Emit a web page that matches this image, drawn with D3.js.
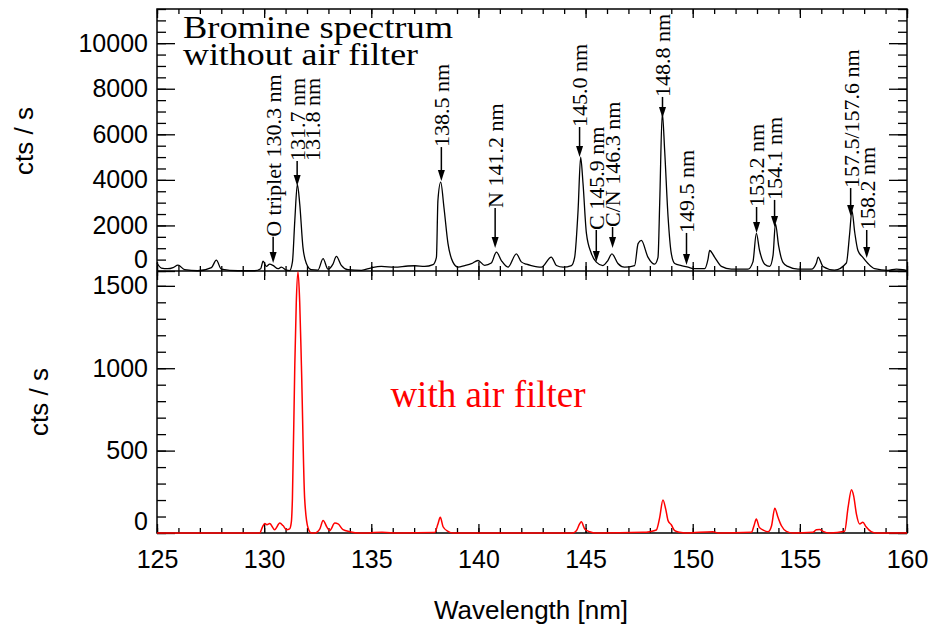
<!DOCTYPE html>
<html>
<head>
<meta charset="utf-8">
<script src="https://cdn.jsdelivr.net/npm/d3@7"></script>
<style>
  body { margin: 0; background: #fff; }
  text { font-family: "Liberation Sans", Arial, sans-serif; fill: #000; }
  .serif { font-family: "Liberation Serif", "Times New Roman", serif; }
  .tick text { font-size: 25px; }
  .axis path.domain { display: none; }
  .axis line { stroke: #000; stroke-width: 1.3px; }
</style>
</head>
<body>
<div id="chart"></div>
<script>
// spectrum without air filter (black), wavelength in nm / counts per s
let blackNm = [125.0, 125.2, 125.5, 125.75, 125.98, 126.29, 126.9, 127.54, 127.77, 128.0,
  128.78, 129.56, 129.84, 129.95, 130.1, 130.26, 130.41, 130.65, 130.8, 131.04,
  131.19, 131.32, 131.43, 131.55, 131.66, 131.81, 131.97, 132.2, 132.51, 132.75,
  132.98, 133.21, 133.37, 133.6, 133.91, 134.54, 135.0, 135.47, 136.09, 136.71,
  137.03, 137.49, 137.88, 138.04, 138.11, 138.24, 138.39, 138.58, 138.81, 139.05,
  139.36, 139.67, 139.98, 140.29, 140.6, 140.84, 141.07, 141.38, 141.77, 142.0,
  142.24, 142.47, 142.94, 143.4, 143.64, 143.95, 144.34, 144.49, 144.65, 144.77,
  144.88, 145.04, 145.27, 145.5, 145.81, 146.04, 146.23, 146.51, 146.82, 147.29,
  147.45, 147.6, 147.91, 148.22, 148.38, 148.46, 148.58, 148.69, 148.85, 149.0,
  149.16, 149.47, 149.78, 150.09, 150.56, 150.71, 150.79, 151.02, 151.34, 151.8,
  152.58, 152.81, 152.97, 153.12, 153.36, 153.59, 153.75, 153.86, 154.01, 154.21,
  154.44, 154.91, 155.54, 155.77, 155.85, 156.08, 156.62, 157.17, 157.32, 157.43,
  157.56, 157.71, 157.94, 158.18, 158.49, 159.11, 159.5, 159.8, 160.0];
let blackCts = [350, 130, 100, 150, 260, 60, 10, 150, 480, 80,
  10, 10, 100, 430, 200, 300, 250, 100, 170, 40,
  20, 400, 2200, 3800, 2950, 1050, 330, 60, 40, 540,
  80, 300, 640, 250, 60, 30, 140, 200, 170, 220,
  230, 200, 280, 600, 3100, 3900, 2800, 1200, 390, 170,
  240, 320, 460, 250, 350, 830, 460, 170, 750, 400,
  300, 240, 170, 610, 240, 170, 240, 600, 2660, 5000,
  3850, 1650, 770, 390, 240, 460, 750, 330, 170, 240,
  1200, 1340, 610, 300, 600, 3000, 6950, 5300, 2370, 770,
  330, 240, 170, 100, 100, 500, 900, 610, 200, 80,
  80, 400, 1650, 900, 300, 200, 700, 2080, 1100, 380,
  200, 80, 80, 350, 610, 200, 40, 350, 1600, 2650,
  1700, 900, 600, 330, 100, 30, 80, 60, 20];

// spectrum with air filter (red)
let redNm = [125.0, 129.79, 129.92, 130.03, 130.13, 130.26, 130.49, 130.73, 130.88, 131.04,
  131.19, 131.27, 131.32, 131.43, 131.5, 131.58, 131.66, 131.74, 131.89, 132.05,
  132.2, 132.36, 132.6, 132.75, 132.93, 133.06, 133.3, 133.45, 133.68, 133.99,
  134.46, 135.5, 136.3, 137.96, 138.11, 138.22, 138.35, 138.58, 138.81, 144.4,
  144.57, 144.72, 144.8, 144.96, 145.19, 145.5, 147.68, 147.99, 148.3, 148.46,
  148.61, 148.74, 148.85, 149.0, 149.16, 149.39, 149.7, 150.94, 151.2, 152.74,
  152.86, 152.97, 153.1, 153.29, 153.52, 153.68, 153.83, 153.98, 154.14, 154.37,
  154.68, 155.61, 155.77, 155.92, 156.08, 156.39, 157.09, 157.25, 157.41, 157.51,
  157.64, 157.79, 157.94, 158.09, 158.33, 158.57, 160.0];
let redCts = [0, 0, 36, 57, 50, 57, 20, 60, 45, 20,
  25, 67, 210, 1015, 1400, 1585, 1400, 1015, 210, 30,
  0, 0, 25, 76, 36, 15, 60, 55, 20, 8,
  0, 4, 0, 3, 55, 95, 38, 10, 0, 0,
  13, 55, 68, 25, 8, 0, 4, 8, 18, 95,
  200, 145, 75, 50, 14, 4, 0, 8, 0, 4,
  44, 85, 36, 18, 8, 44, 150, 95, 44, 10,
  0, 4, 20, 22, 10, 0, 10, 155, 262, 225,
  115, 55, 65, 38, 8, 0, 0];

// line labels: wavelength of arrow, counts where the text begins, counts of arrow tip
// (a label with no tip is a second line of the label before it)
let labelText = ["O triplet 130.3 nm", "131.7 nm", "131.8 nm", "138.5 nm", "N 141.2 nm",
  "145.0 nm", "C 145.9 nm", "C/N 146.3 nm", "148.8 nm", "149.5 nm",
  "153.2 nm", "154.1 nm", "157.5/157.6 nm", "158.2 nm"];
let labelNm = [130.42, 131.54, 132.22, 138.27, 140.78, 144.72, 145.5, 146.26, 148.59, 149.71,
  152.98, 153.82, 157.37, 158.12];
let labelStart = [1500, 4830, 4830, 5440, 2770, 6320, 1800, 1930, 7640, 1670,
  2810, 3120, 3640, 1800];
let labelTip = [350, 3730, null, 3950, 1010, 5000, 400, 1010, 6720, 260,
  1670, 1930, 2410, 570];

let titleLines = ["Bromine spectrum", "without air filter"];

let xMajor = [125, 130, 135, 140, 145, 150, 155, 160];
let topMajor = [0, 2000, 4000, 6000, 8000, 10000];
let botMajor = [0, 500, 1000, 1500];

let width = 935;
let height = 627;
let edgeL = 157, edgeR = 907, edgeT = 9, edgeM = 271, edgeB = 533;

let xScale = d3.scaleLinear().domain([125, 160]).range([edgeL, edgeR]);
let yTop = d3.scaleLinear().domain([0, 11500]).range([edgeM, edgeT]);
let yBot = d3.scaleLinear().domain([0, 1590]).range([edgeB, edgeM]);

let xMinor = d3.range(125, 161, 1);
let topMinor = d3.range(0, 11501, 500);
let botMinor = d3.range(0, 1591, 100);

let svg = d3
  .select("#chart")
  .append("svg")
  .attr("width", width)
  .attr("height", height);

/* ticks on all four sides of both panels, pointing inward */
function ticks(axis, vals, size, tx, ty) {
  svg
    .append("g")
    .attr("class", "axis")
    .attr("transform", `translate(${tx},${ty})`)
    .call(axis.tickValues(vals).tickSize(size).tickSizeOuter(0).tickFormat(""));
}

[[yTop, topMajor, topMinor], [yBot, botMajor, botMinor]].forEach(([ys, maj, min]) => {
  ticks(d3.axisRight(ys), maj, 18, edgeL, 0);
  ticks(d3.axisRight(ys), min, 9, edgeL, 0);
  ticks(d3.axisLeft(ys), maj, 18, edgeR, 0);
  ticks(d3.axisLeft(ys), min, 9, edgeR, 0);
});

[[edgeT, d3.axisBottom], [edgeM, d3.axisTop], [edgeM, d3.axisBottom], [edgeB, d3.axisTop]].forEach(
  ([yy, ax]) => {
    ticks(ax(xScale), xMajor, 9, 0, yy);
    ticks(ax(xScale), xMinor, 5, 0, yy);
  }
);

/* tick labels */
function yLabels(ys, vals) {
  let g = svg
    .append("g")
    .attr("class", "axis")
    .attr("transform", `translate(${edgeL},0)`)
    .call(d3.axisLeft(ys).tickValues(vals).tickSize(0).tickPadding(9).tickFormat(d3.format("d")));
  g.selectAll(".tick text").attr("dy", d => (d === 0 ? "-0.14em" : "0.32em"));
}
yLabels(yTop, topMajor);
yLabels(yBot, botMajor);

svg
  .append("g")
  .attr("class", "axis")
  .attr("transform", `translate(0,${edgeB})`)
  .call(d3.axisBottom(xScale).tickValues(xMajor).tickSize(0).tickPadding(17).tickFormat(d3.format("d")));

/* frames */
svg
  .append("rect")
  .attr("x", edgeL)
  .attr("y", edgeT)
  .attr("width", edgeR - edgeL)
  .attr("height", edgeB - edgeT)
  .attr("fill", "none")
  .attr("stroke", "#000")
  .attr("stroke-width", 1.5);

svg
  .append("line")
  .attr("x1", edgeL)
  .attr("x2", edgeR)
  .attr("y1", edgeM)
  .attr("y2", edgeM)
  .attr("stroke", "#000")
  .attr("stroke-width", 1.5);

/* spectra */
let blackLine = d3
  .line()
  .x(i => xScale(blackNm[i]))
  .y(i => yTop(blackCts[i]))
  .curve(d3.curveMonotoneX);

let redLine = d3
  .line()
  .x(i => xScale(redNm[i]))
  .y(i => yBot(redCts[i]))
  .curve(d3.curveMonotoneX);

svg
  .append("path")
  .attr("d", blackLine(d3.range(blackNm.length)))
  .attr("fill", "none")
  .attr("stroke", "#000")
  .attr("stroke-width", 1.3);

svg
  .append("path")
  .attr("d", redLine(d3.range(redNm.length)))
  .attr("fill", "none")
  .attr("stroke", "#ff0000")
  .attr("stroke-width", 1.5);

/* line labels with arrows */
let marks = svg.append("g").attr("class", "marks");
let lastText, lastX, lastY;
labelText.forEach((t, i) => {
  let x = xScale(labelNm[i]);
  let y0 = yTop(labelStart[i]);
  if (labelTip[i] === null) {
    // stacked second line, kept in the same text element
    lastText
      .append("tspan")
      .attr("x", lastY - y0)
      .attr("dy", x - lastX)
      .text(t);
    return;
  }
  lastText = marks
    .append("text")
    .attr("class", "serif")
    .attr("transform", `translate(${x},${y0}) rotate(-90)`)
    .style("font-size", "22px");
  lastText.append("tspan").attr("x", 0).attr("dy", "0.36em").text(t);
  lastX = x;
  lastY = y0;
  let y1 = yTop(labelTip[i]);
  marks
    .append("line")
    .attr("x1", x)
    .attr("x2", x)
    .attr("y1", y0)
    .attr("y2", y1 - 6)
    .attr("stroke", "#000")
    .attr("stroke-width", 1.5);
  marks
    .append("path")
    .attr("d", `M${x - 3.5},${y1 - 11}L${x + 3.5},${y1 - 11}L${x},${y1}Z`)
    .attr("fill", "#000");
});

/* title, two tight lines in one text */
let title = svg
  .append("text")
  .attr("class", "serif")
  .attr("y", 38)
  .style("font-size", "32px");

title
  .selectAll("tspan")
  .data(titleLines)
  .enter()
  .append("tspan")
  .attr("x", 183)
  .attr("dy", (d, i) => (i === 0 ? 0 : 27))
  .attr("textLength", (d, i) => (i === 0 ? 270 : 235))
  .attr("lengthAdjust", "spacingAndGlyphs")
  .text(d => d);

svg
  .append("text")
  .attr("class", "serif")
  .attr("x", 488)
  .attr("y", 407)
  .attr("text-anchor", "middle")
  .style("font-size", "37px")
  .style("fill", "#ff0000")
  .text("with air filter");

svg
  .append("text")
  .attr("x", 531)
  .attr("y", 619)
  .attr("text-anchor", "middle")
  .style("font-size", "26px")
  .text("Wavelength [nm]");

[[24, 141], [39, 402]].forEach(([x, y]) => {
  svg
    .append("text")
    .attr("transform", `translate(${x},${y}) rotate(-90)`)
    .attr("text-anchor", "middle")
    .attr("dy", "0.35em")
    .style("font-size", "26px")
    .text("cts / s");
});
</script>
</body>
</html>
